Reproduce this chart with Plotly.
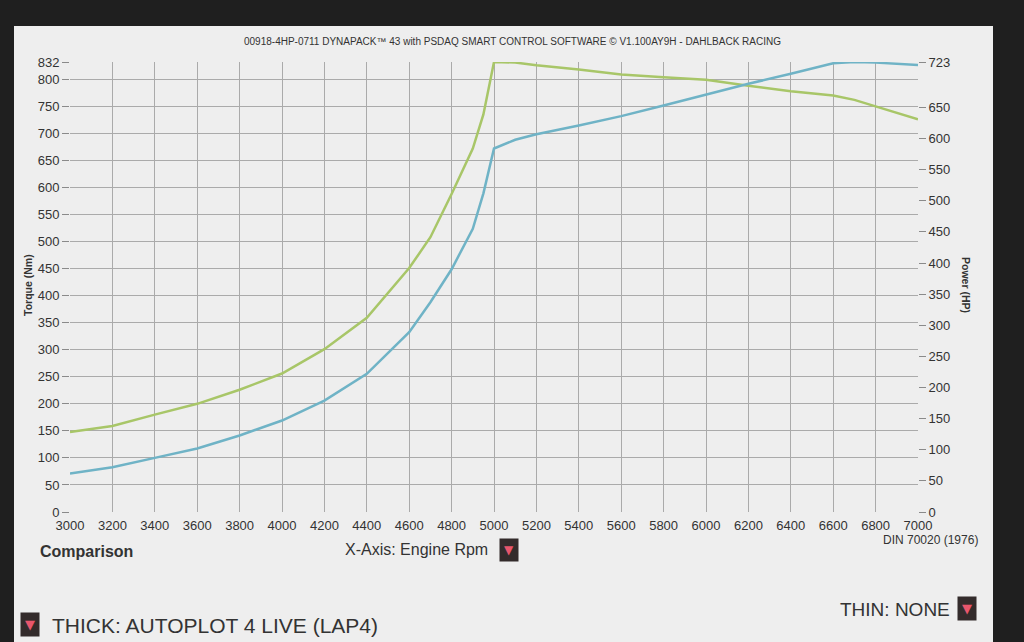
import plotly.graph_objects as go

# ---------------- data (read from the dyno sheet) ----------------
rpm = [3000, 3200, 3400, 3600, 3800, 4000, 4200, 4400, 4600, 4700, 4800, 4900, 4950,
       5000, 5100, 5200, 5400, 5600, 5800, 6000, 6200, 6400, 6600, 6700, 6800, 7000]
torque_nm = [148, 159, 180, 200, 226, 256, 301, 359, 451, 508, 588, 672, 735,
             832, 831, 826, 818, 809, 804, 799, 788, 778, 770, 762, 750, 726]
power_hp = [62, 72, 87, 102, 123, 147, 179, 222, 289, 337, 390, 455, 512,
            584, 598, 607, 621, 636, 653, 671, 688, 704, 721, 723, 722, 718]

rpm_ticks = list(range(3000, 7001, 200))
rpm_grid = list(range(3200, 6801, 200))
torque_ticks = list(range(0, 801, 50)) + [832]
torque_grid = list(range(50, 801, 50))
power_ticks = list(range(0, 651, 50)) + [723]
TORQUE_MAX = 832
POWER_MAX = 723

title_text = "00918-4HP-0711 DYNAPACK\u2122 43 with PSDAQ SMART CONTROL SOFTWARE \u00a9 V1.100AY9H - DAHLBACK RACING"

# ---------------- layout geometry ----------------
FW, FH = 1024, 642
L, R, T, B = 70, 106, 62, 130
PW, PH = FW - L - R, FH - T - B


def px(x):
    return (x - L) / PW


def py(y):
    return (FH - B - y) / PH


FONT = "Liberation Sans, Arial, sans-serif"
GREEN = "#a8c668"
BLUE = "#6fb3c6"
TXT = "#333333"
GRID = "#aaaaaa"

fig = go.Figure()
fig.add_trace(go.Scatter(x=rpm, y=torque_nm, mode="lines", name="Torque (Nm)",
                         line=dict(color=GREEN, width=2.5), yaxis="y", showlegend=False))
fig.add_trace(go.Scatter(x=rpm, y=power_hp, mode="lines", name="Power (HP)",
                         line=dict(color=BLUE, width=2.5), yaxis="y2", showlegend=False))
# helper trace so the grid-only axes are drawn
fig.add_trace(go.Scatter(x=[None], y=[None], xaxis="x2", yaxis="y3",
                         showlegend=False, hoverinfo="skip"))

tickfont = dict(family=FONT, size=13, color=TXT)

fig.update_layout(
    width=FW, height=FH,
    margin=dict(l=L, r=R, t=T, b=B),
    paper_bgcolor="#1f1f1f",
    plot_bgcolor="rgba(0,0,0,0)",
    font=dict(family=FONT, color=TXT),
    xaxis=dict(range=[3000, 7000], tickvals=rpm_ticks, ticktext=[str(v) for v in rpm_ticks],
               showgrid=False, zeroline=False, showline=False, ticks="",
               tickfont=tickfont, ticklabelstandoff=4),
    xaxis2=dict(range=[3000, 7000], overlaying="x", anchor="y3", tickvals=rpm_grid,
                showgrid=True, gridcolor=GRID, gridwidth=1, showticklabels=False,
                zeroline=False, showline=False, ticks=""),
    yaxis=dict(range=[0, TORQUE_MAX], tickvals=torque_ticks, showgrid=False, zeroline=False,
               showline=False, ticks="outside", ticklen=7, tickcolor="#8a8a8a",
               tickfont=tickfont),
    yaxis2=dict(range=[0, POWER_MAX], tickvals=power_ticks, overlaying="y", side="right",
                anchor="x", showgrid=False, zeroline=False, showline=False,
                ticks="outside", ticklen=7, tickcolor="#8a8a8a", tickfont=tickfont),
    yaxis3=dict(range=[0, TORQUE_MAX], overlaying="y", anchor="x2", tickvals=torque_grid,
                showgrid=True, gridcolor=GRID, gridwidth=1, showticklabels=False,
                zeroline=False, showline=False, ticks=""),
)

# sheet of paper behind the chart
fig.add_shape(type="rect", xref="paper", yref="paper", layer="below",
              x0=px(14), x1=px(993), y0=py(FH + 5), y1=py(26),
              fillcolor="#eeeeee", line=dict(width=0))


def ann(text, x, y, size, xanchor="center", bold=False, angle=0, color=TXT, **kw):
    if bold:
        text = "<b>" + text + "</b>"
    fig.add_annotation(text=text, x=px(x), y=py(y), xref="paper", yref="paper",
                       xanchor=xanchor, yanchor="middle", showarrow=False,
                       textangle=angle, font=dict(family=FONT, size=size, color=color), **kw)


def icon(x, y, size=12):
    fig.add_annotation(text="\u25bc", x=px(x), y=py(y), xref="paper", yref="paper",
                       xanchor="center", yanchor="middle", showarrow=False,
                       bgcolor="#332b2b", borderpad=4,
                       font=dict(family="DejaVu Sans", size=size, color="#e8566c"))


ann(title_text, 512, 42, 10)
ann("Torque (Nm)", 28, 285, 10.5, bold=True, angle=-90)
ann("Power (HP)", 966, 285, 10.5, bold=True, angle=90)
ann("Comparison", 38, 551, 16, xanchor="left", bold=True)
ann("X-Axis: Engine Rpm", 490, 549, 16, xanchor="right")
icon(509, 550)
ann("DIN 70020 (1976)", 980, 540, 12, xanchor="right")
icon(30, 624, 13)
ann("THICK: AUTOPLOT 4 LIVE (LAP4)", 50, 625, 21, xanchor="left")
ann("THIN: NONE", 952, 609, 19, xanchor="right")
icon(967, 608, 13)

fig.write_html("out.html", config={"displayModeBar": False},
               post_script="document.body.style.margin='0';")
